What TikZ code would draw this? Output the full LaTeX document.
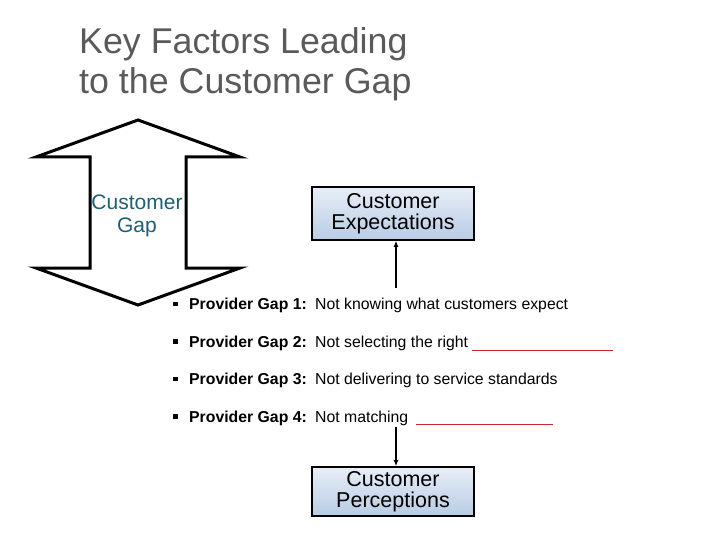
\documentclass[tikz,border=0pt]{standalone}
\usepackage{fontspec}
\setmainfont{Liberation Sans}
\usepackage{tikz}
\usetikzlibrary{positioning, arrows.meta, shapes.geometric}
\definecolor{titlegray}{HTML}{5A5A5A}
\definecolor{gapteal}{HTML}{1F5F70}
\definecolor{blankred}{HTML}{C42A2E}
\definecolor{boxtop}{HTML}{E8EEF7}
\definecolor{boxbottom}{HTML}{B8CCE4}

\begin{document}
\begin{tikzpicture}[x=1pt, y=-1pt,
    box/.style={draw, line width=1.6pt, top color=boxtop, bottom color=boxbottom, minimum width=162pt, inner sep=0pt, align=center, font=\fontsize{21.5}{21.5}\selectfont},
    gaplbl/.style={anchor=base west, inner sep=0pt, font=\fontsize{15.8}{18}\selectfont\bfseries},
    gaptxt/.style={anchor=base west, inner sep=0pt, font=\fontsize{15.8}{18}\selectfont}]
    \useasboundingbox (0,0) rectangle (720,540);

    \node[anchor=north west, inner sep=0pt, align=left, text=titlegray, font=\fontsize{35.8}{40}\selectfont] (title) at (79,27) {Key Factors Leading\\to the Customer Gap};

    % the customer gap as a double arrow
    \draw[line width=3pt, miter limit=20] (138,120) -- (240,157) -- (186,157) -- (186,268) -- (240,268) -- (138,305) -- (36,268) -- (90,268) -- (90,157) -- (36,157) -- cycle;
    \node[align=center, inner sep=0pt, text=gapteal, font=\fontsize{21}{23}\selectfont] (gap) at (137,216) {Customer\\Gap};

    \node[box, minimum height=53pt] (exp) at (393,213.5) {Customer\\Expectations};
    \node[box, minimum height=49pt] (perc) at (393,491.5) {Customer\\Perceptions};

    \foreach \i/\y/\txt in {1/309.5/Not knowing what customers expect, 2/347/Not selecting the right, 3/384.5/Not delivering to service standards, 4/422/Not matching}{
        \fill (173,\y-8) rectangle +(4.5,4.5);
        \node[gaplbl] (p\i) at (189,\y) {Provider Gap \i:};
        \node[gaptxt] (d\i) at (315,\y) {\txt};
    }
    \draw[blankred, line width=0.9pt] (472,350) -- (613,350);
    \draw[blankred, line width=0.9pt] (416,424) -- (553,424);

    \coordinate (up) at (396,288);
    \coordinate (down) at (396,427);
    \draw[line width=1.4pt, -{Latex[length=6pt, width=5pt]}] (up) -- (up |- exp.south);
    \draw[line width=1.4pt, -{Latex[length=6pt, width=5pt]}] (down) -- (down |- perc.north);
\end{tikzpicture}
\end{document}
